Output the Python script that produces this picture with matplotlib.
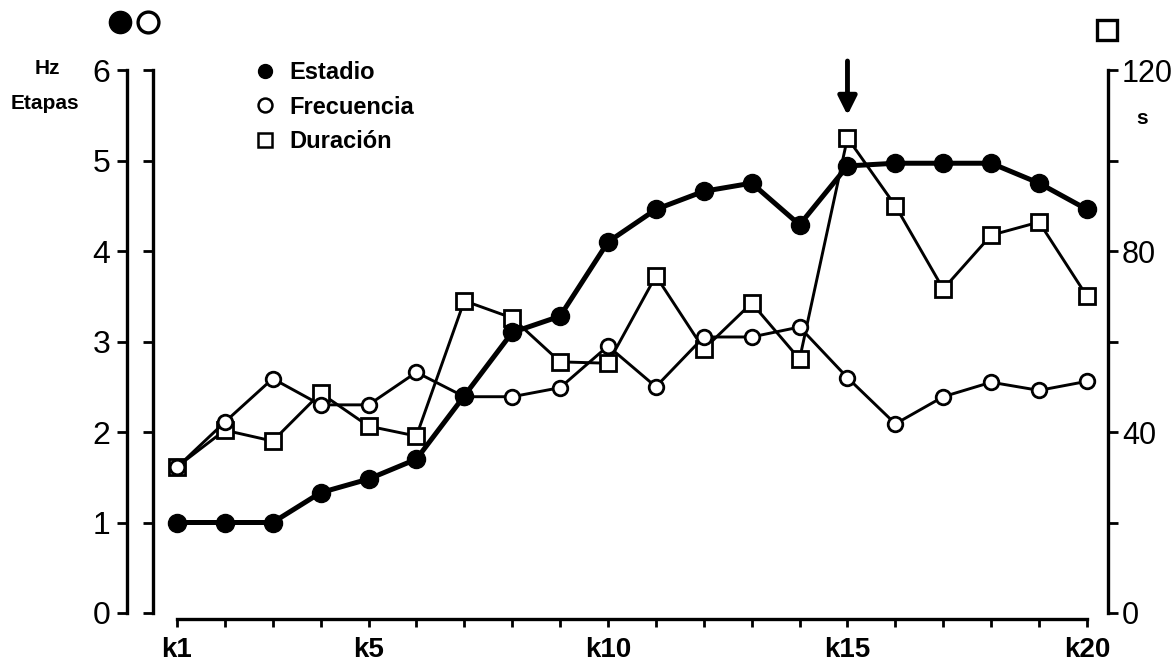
import matplotlib
matplotlib.use("Agg")
import matplotlib.pyplot as plt
from matplotlib.lines import Line2D

plt.rcParams['font.family'] = ['Liberation Sans', 'DejaVu Sans']

# sessions k1..k20
sesion = list(range(1, 21))
xticks_lab = [1, 5, 10, 15, 20]
xticks_txt = ["k1", "k5", "k10", "k15", "k20"]

# Estadio (Etapas, eje izq.)
estadio = [1.0, 1.0, 1.0, 1.33, 1.48, 1.7, 2.4, 3.1, 3.28, 4.1,
           4.46, 4.66, 4.75, 4.29, 4.94, 4.97, 4.97, 4.97, 4.75, 4.46]
# Frecuencia (Hz, eje izq.)
frecuencia = [1.61, 2.11, 2.59, 2.3, 2.3, 2.66, 2.39, 2.39, 2.49, 2.95,
              2.5, 3.05, 3.05, 3.16, 2.6, 2.09, 2.39, 2.55, 2.46, 2.56]
# Duracion (s, eje der.)
duracion = [32.3, 40.4, 38.0, 48.6, 41.3, 39.1, 69.0, 65.2, 55.5, 55.2,
            74.5, 58.3, 68.5, 56.1, 105.0, 90.0, 71.6, 83.5, 86.4, 70.0]

fig = plt.figure(figsize=(11.75, 6.65), dpi=100)
ax = fig.add_axes([0.1302, 0.0782, 0.8128, 0.8165])
axr = ax.twinx()

ax.set_xlim(0.5, 20.44)
ax.set_ylim(0, 6)
axr.set_ylim(0, 120)

axr.plot(sesion, duracion, '-', color='k', lw=2.1, marker='s', ms=11.5,
         mfc='white', mec='k', mew=2.0, zorder=2)
ax.set_zorder(axr.get_zorder() + 1)
ax.patch.set_visible(False)
ax.plot(sesion, frecuencia, '-', color='k', lw=2.1, marker='o', ms=10.5,
        mfc='white', mec='k', mew=2.0, zorder=2)
ax.plot(sesion, estadio, '-', color='k', lw=3.6, marker='o', ms=13,
        mfc='k', mec='k', zorder=3)

# spines
ax.spines['top'].set_visible(False)
axr.spines['top'].set_visible(False)
ax.spines['right'].set_visible(False)
axr.spines['left'].set_visible(False)
axr.spines['bottom'].set_visible(False)
for a in (ax, axr):
    for sp in a.spines.values():
        sp.set_linewidth(2.4)

ax.spines['bottom'].set_bounds(1, 20)
ax.spines['bottom'].set_position(('outward', 4))
ax.set_xticks(sesion)
ax.set_xticklabels([xticks_txt[xticks_lab.index(v)] if v in xticks_lab else "" for v in sesion],
                   fontsize=20, fontweight='bold')
ax.tick_params(axis='x', direction='out', length=6, width=2, pad=7)

ax.set_yticks(range(0, 7))
ax.tick_params(axis='y', direction='out', length=7, width=2, labelleft=False)

sec = ax.secondary_yaxis(-0.0272)
sec.set_yticks(range(0, 7))
sec.spines['left'].set_linewidth(2.4)
sec.tick_params(axis='y', direction='out', length=7, width=2, pad=5, labelsize=23)

rticks = list(range(0, 121, 20))
axr.set_yticks(rticks)
axr.set_yticklabels([str(v) if v % 40 == 0 else "" for v in rticks], fontsize=22)
axr.tick_params(axis='y', direction='out', length=7, width=2, pad=3)

# axis labels
fig.text(0.040, 0.897, "Hz", fontsize=15, fontweight='bold', ha='center', va='center')
fig.text(0.038, 0.845, "Etapas", fontsize=15, fontweight='bold', ha='center', va='center')
fig.text(0.972, 0.822, "s", fontsize=15, fontweight='bold', ha='center', va='center')

# series symbols above the axes
fig.add_artist(Line2D([0.102], [0.967], marker='o', ms=16, mfc='k', mec='k',
                      transform=fig.transFigure))
fig.add_artist(Line2D([0.126], [0.967], marker='o', ms=15, mfc='white', mec='k', mew=2.4,
                      transform=fig.transFigure))
fig.add_artist(Line2D([0.942], [0.955], marker='s', ms=14, mfc='white', mec='k', mew=2.4,
                      transform=fig.transFigure))

# legend
handles = [Line2D([], [], ls='none', marker='o', ms=10, mfc='k', mec='k'),
           Line2D([], [], ls='none', marker='o', ms=10, mfc='white', mec='k', mew=1.8),
           Line2D([], [], ls='none', marker='s', ms=10, mfc='white', mec='k', mew=1.8)]
leg = ax.legend(handles, ["Estadio", "Frecuencia", "Duración"], loc='upper left',
                bbox_to_anchor=(0.088, 1.055), frameon=False, handlelength=0.6,
                handletextpad=0.7, labelspacing=0.48,
                prop={'size': 17, 'weight': 'bold'})

# arrow at k15
ax.annotate('', xy=(15, 5.47), xytext=(15, 6.13),
            arrowprops=dict(arrowstyle='-|>', lw=3.5, color='k', mutation_scale=28),
            annotation_clip=False)

fig.savefig("out.png", dpi=100)
